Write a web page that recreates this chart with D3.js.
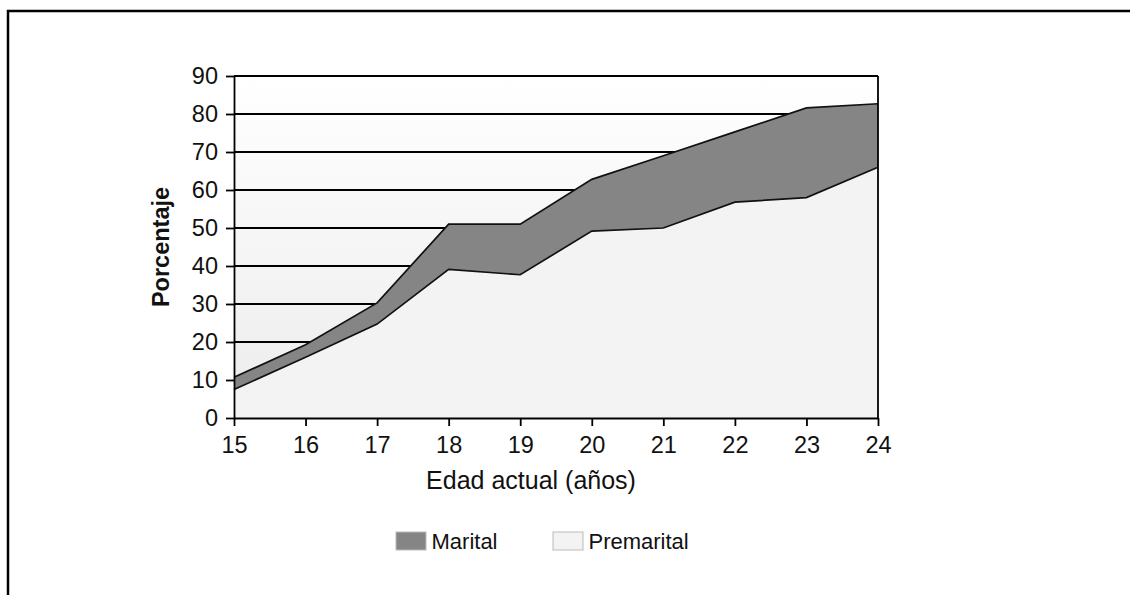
<!DOCTYPE html>
<html><head><meta charset="utf-8">
<script src="https://cdn.jsdelivr.net/npm/d3@7/dist/d3.min.js"></script>
<style>body{margin:0;background:#fff}svg{display:block}</style>
</head><body>
<svg id="c" width="1130" height="595"></svg>
<script>
const ages = [15,16,17,18,19,20,21,22,23,24];
const premarital = [7.5,16.0,24.7,39.1,37.7,49.2,50.0,56.8,58.0,66.0];
const total = [10.7,19.3,30.3,51.0,51.0,62.8,69.0,75.3,81.6,82.7];
const yTicks = [0,10,20,30,40,50,60,70,80,90];
const legendLabels = ["Marital","Premarital"];

const svg = d3.select("#c");
const font = "Liberation Sans, Arial, sans-serif";
// outer frame
svg.append("path").attr("d","M8,600 L8,11 L1135,11").attr("fill","none").attr("stroke","#000").attr("stroke-width",2.5);

const x = d3.scaleLinear().domain([15,24]).range([234,878]);
const y = d3.scaleLinear().domain([0,90]).range([418,76]);

const defs = svg.append("defs");
const g = defs.append("linearGradient").attr("id","bg").attr("x1",0).attr("y1",0).attr("x2",0).attr("y2",1);
g.append("stop").attr("offset","0%").attr("stop-color","#ffffff");
g.append("stop").attr("offset","100%").attr("stop-color","#ececec");

svg.append("rect").attr("x",x(15)).attr("y",y(90)).attr("width",x(24)-x(15)).attr("height",y(0)-y(90)).attr("fill","url(#bg)");

// gridlines
svg.append("g").selectAll("line").data(yTicks.filter(d=>d>0)).join("line")
  .attr("x1",x(15)).attr("x2",x(24)).attr("y1",d=>y(d)).attr("y2",d=>y(d))
  .attr("stroke","#000").attr("stroke-width",1.8);

const data = ages.map((a,i)=>({a,p:premarital[i],t:total[i]}));
const areaM = d3.area().x(d=>x(d.a)).y0(d=>y(d.p)).y1(d=>y(d.t));
const areaP = d3.area().x(d=>x(d.a)).y0(y(0)).y1(d=>y(d.p));
svg.append("path").datum(data).attr("d",areaP).attr("fill","#f3f3f3");
svg.append("path").datum(data).attr("d",areaM).attr("fill","#858585");
const lineT = d3.line().x(d=>x(d.a)).y(d=>y(d.t));
const lineP = d3.line().x(d=>x(d.a)).y(d=>y(d.p));
svg.append("path").datum(data).attr("d",lineT).attr("fill","none").attr("stroke","#111").attr("stroke-width",1.7);
svg.append("path").datum(data).attr("d",lineP).attr("fill","none").attr("stroke","#111").attr("stroke-width",1.7);

// right border
svg.append("line").attr("x1",x(24)).attr("x2",x(24)).attr("y1",y(90)).attr("y2",y(0)).attr("stroke","#000").attr("stroke-width",1.8);

const yAxis = d3.axisLeft(y).tickValues(yTicks).tickSize(8).tickPadding(8).tickSizeOuter(0);
const ya = svg.append("g").attr("transform",`translate(${x(15)},0)`).call(yAxis);
const xAxis = d3.axisBottom(x).tickValues(ages).tickSize(8).tickPadding(10).tickFormat(d3.format("d")).tickSizeOuter(0);
const xa = svg.append("g").attr("transform",`translate(0,${y(0)})`).call(xAxis);
[ya,xa].forEach(a=>{
  a.select(".domain").attr("stroke","#000").attr("stroke-width",1.8);
  a.selectAll(".tick line").attr("stroke","#000").attr("stroke-width",1.8);
  a.selectAll(".tick text").attr("font-family",font).attr("font-size",23.5).attr("fill","#111");
});

svg.append("text").attr("transform",`translate(168.5,247) rotate(-90)`).attr("text-anchor","middle")
  .attr("font-family",font).attr("font-size",23.5).attr("font-weight","bold").attr("fill","#111").text("Porcentaje");
svg.append("text").attr("x",531).attr("y",489).attr("text-anchor","middle")
  .attr("font-family",font).attr("font-size",25).attr("fill","#111").text("Edad actual (años)");

const legFill = ["#858585","#f3f3f3"];
const legX = [396,553];
const lg = svg.append("g").selectAll("g").data(legendLabels).join("g").attr("transform",(d,i)=>`translate(${legX[i]},532)`);
lg.append("rect").attr("width",30).attr("height",18).attr("fill",(d,i)=>legFill[i]).attr("stroke","#bbb").attr("stroke-width",1);
lg.append("text").attr("x",35.5).attr("y",16.5).attr("font-family",font).attr("font-size",22).attr("fill","#111").text(d=>d);
</script>
</body></html>
